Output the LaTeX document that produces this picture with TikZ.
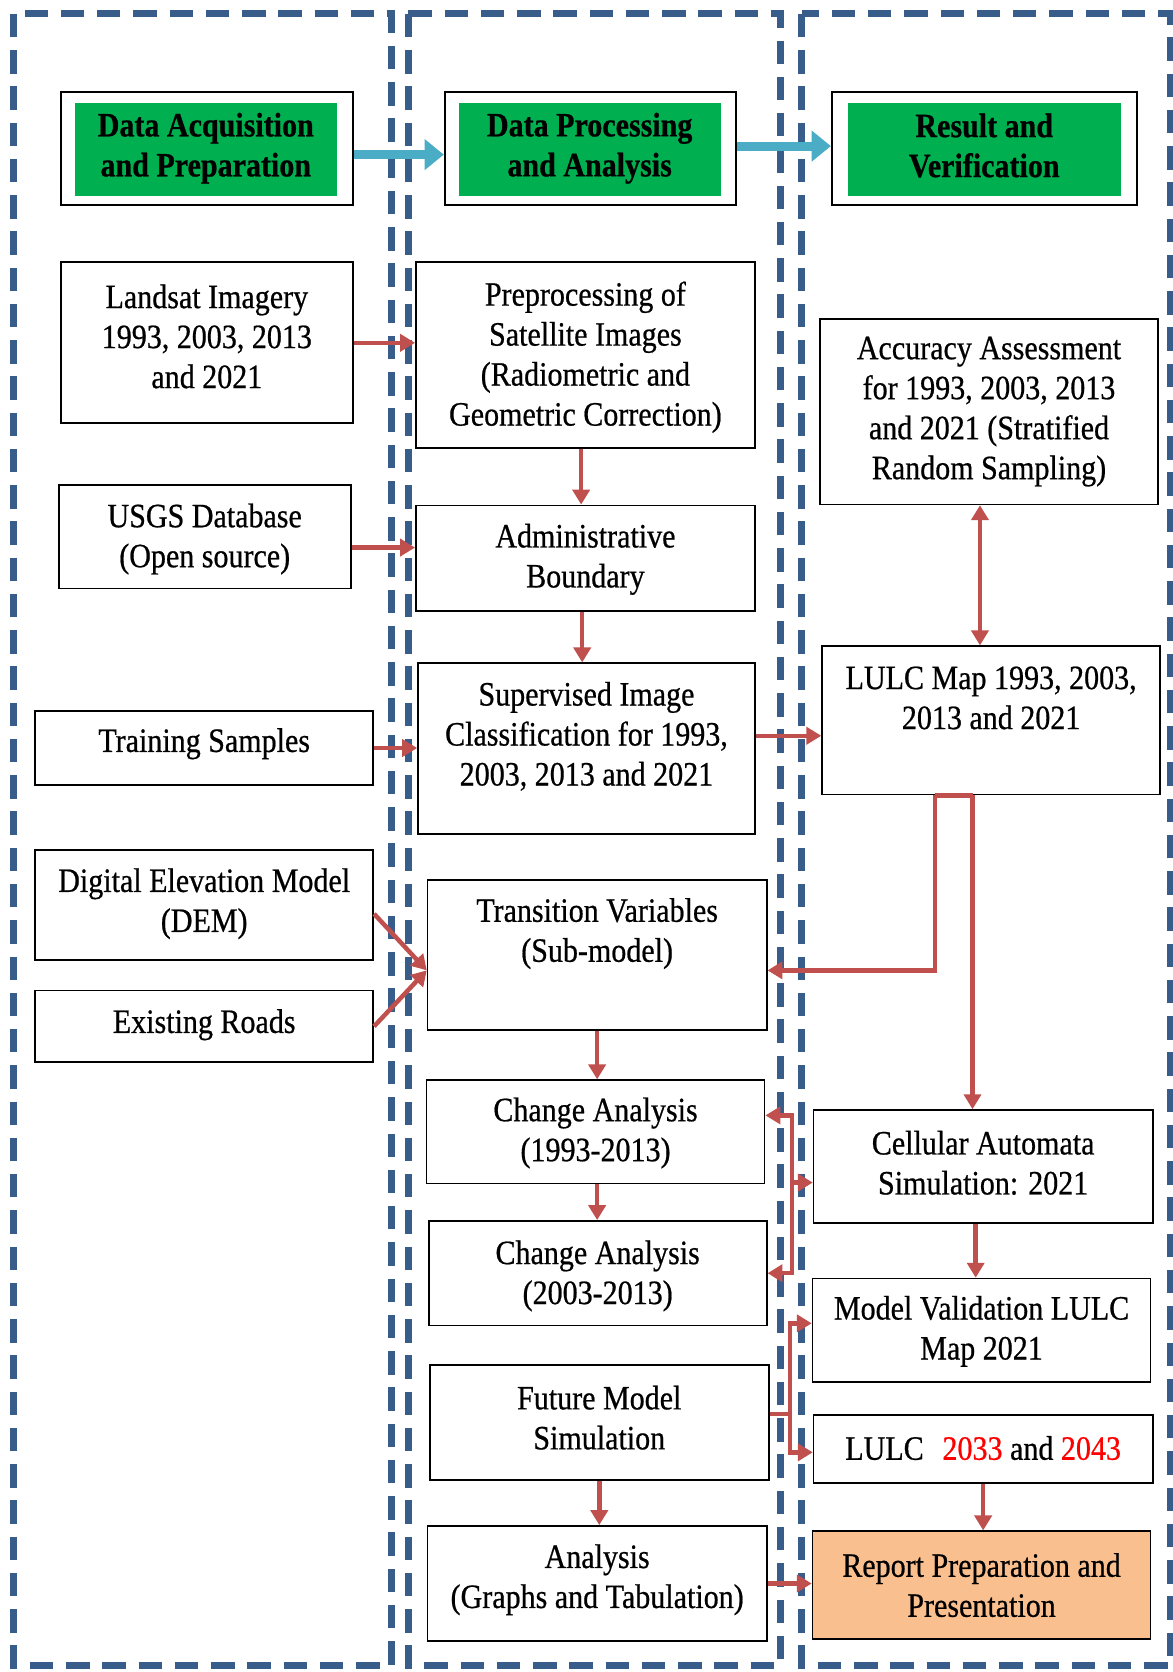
\documentclass[tikz,border=0pt]{standalone}
\usepackage{fontspec}
\setmainfont{Liberation Serif}[FakeStretch=0.88, FakeBold=0.6]
\usetikzlibrary{arrows.meta,calc}
\definecolor{dashblue}{RGB}{56,93,138}
\definecolor{hdrgreen}{RGB}{0,176,80}
\definecolor{arrblue}{RGB}{75,172,198}
\definecolor{arrred}{RGB}{192,80,77}
\definecolor{repfill}{RGB}{250,191,143}
\definecolor{txtred}{RGB}{255,0,0}
\newcommand\fs{\fontsize{32}{37.5}\selectfont}
\tikzset{
 box/.style={draw=black, line width=1.6pt, fill=white, inner sep=0pt},
 txt/.style={align=center, inner sep=0pt, font=\fs},
 hdrfill/.style={fill=hdrgreen, inner sep=0pt},
 hdrtxt/.style={txt, font=\fs\bfseries},
 frame/.style={draw=dashblue, line width=6.5pt, dash pattern=on 22pt off 12pt},
 redarr/.style={draw=arrred, line width=4.2pt, -{Triangle[length=14pt,width=16pt]}},
 redline/.style={draw=arrred, line width=4.2pt},
 redboth/.style={draw=arrred, line width=4.2pt, {Triangle[length=14pt,width=16pt]}-{Triangle[length=14pt,width=16pt]}},
 bluearr/.style={draw=arrblue, line width=8.5pt, -{Triangle[length=18pt,width=28pt]}},
}
% [style]{name}{x1}{y1}{x2}{y2}{text shift}{text}
\newcommand\mybox[8][]{%
  \node[box,#1,minimum width={#5-#3},minimum height={#6-#4}] (#2) at ({(#3+#5)/2},{(#4+#6)/2}) {};
  \node[txt] (#2-t) at ([yshift=#7pt]#2.center) {#8};}
\begin{document}
\begin{tikzpicture}[x=1pt,y=-1pt]
\useasboundingbox (0,0) rectangle (1100,1568);
\fill[white] (0,0) rectangle (1100,1568);
% dashed panels
\draw[frame] (13,13) rectangle (367,1562);
\draw[frame] (383,13) rectangle (732,1562);
\draw[frame] (752,13) rectangle (1098,1562);
% headers
\node[box, minimum width=274, minimum height=106] (h1) at (194,139) {};
\node[hdrfill, minimum width=246, minimum height=87] (h1g) at (193,140.5) {};
\node[hdrtxt] (h1t) at ([yshift=1.5pt]h1g.center) {Data Acquisition\\and Preparation};
\node[box, minimum width=273, minimum height=106] (h2) at (553.5,139) {};
\node[hdrfill, minimum width=246, minimum height=87] (h2g) at (553,140.5) {};
\node[hdrtxt] (h2t) at ([yshift=1.5pt]h2g.center) {Data Processing\\and Analysis};
\node[box, minimum width=286, minimum height=106] (h3) at (923,139) {};
\node[hdrfill, minimum width=256, minimum height=87] (h3g) at (923,140.5) {};
\node[hdrtxt] (h3t) at ([yshift=4pt]h3g.center) {Result and\\Verification};
% column 1
\mybox{landsat}{57}{246}{331}{397}{6}{Landsat Imagery\\1993, 2003, 2013\\and 2021}
\mybox{usgs}{55}{455}{329}{552}{-2}{USGS Database\\(Open source)}
\mybox{train}{33}{667}{350}{736}{4}{Training Samples}
\mybox{dem}{33}{797}{350}{900}{1}{Digital Elevation Model\\(DEM)}
\mybox{roads}{33}{929}{350}{996}{1.5}{Existing Roads}
% column 2
\mybox{prep}{390}{246}{708}{420}{-2}{Preprocessing of\\Satellite Images\\(Radiometric and\\Geometric Correction)}
\mybox{admin}{390}{474}{708}{573}{-1}{Administrative\\Boundary}
\mybox{sup}{392}{622}{708}{782}{11.5}{Supervised Image\\Classification for 1993,\\2003, 2013 and 2021}
\mybox{tv}{401}{825}{719}{966}{20}{Transition Variables\\(Sub-model)}
\mybox{ch1}{400}{1013}{717}{1110}{-1}{Change Analysis\\(1993-2013)}
\mybox{ch2}{402}{1145}{719}{1243}{-2.5}{Change Analysis\\(2003-2013)}
\mybox{fut}{403}{1280}{721}{1388}{4.5}{Future Model\\Simulation}
\mybox{an}{401}{1431}{719}{1539}{3.5}{Analysis\\(Graphs and Tabulation)}
% column 3
\mybox{acc}{769}{299}{1086}{473}{0}{Accuracy Assessment\\for 1993, 2003, 2013\\and 2021 (Stratified\\Random Sampling)}
\mybox{lmap}{771}{606}{1088}{745}{21}{LULC Map 1993, 2003,\\2013 and 2021}
\mybox{ca}{763}{1041}{1081}{1147}{3.5}{Cellular Automata\\Simulation: 2021}
\mybox{mv}{762}{1199}{1079}{1296}{-1}{Model Validation LULC\\Map 2021}
\mybox{lf}{763}{1327}{1081}{1391}{1}{LULC\hspace{0.55em}\textcolor{txtred}{2033} and \textcolor{txtred}{2043}}
\mybox[fill=repfill]{rep}{762}{1436}{1079}{1537}{0}{Report Preparation and\\Presentation}
% blue header arrows
\draw[bluearr] ([yshift=-6pt]h1.east) -- ([yshift=-6pt]h1.east -| h2.west);
\draw[bluearr] ([yshift=2pt]h2.east) -- ([yshift=2pt]h2.east -| h3.west);
% red connectors
\draw[redarr] (landsat.east) -- (landsat.east -| prep.west);
\draw[redarr] ([yshift=-10pt]usgs.east) -- ([yshift=-10pt]usgs.east -| admin.west);
\draw[redarr] (train.east) -- (train.east -| sup.west);
\coordinate (tvl) at ([yshift=-14.5pt]tv.west);
\draw[redarr] ([yshift=-8.5pt]dem.east) -- (tvl);
\draw[redarr] (roads.east) -- (tvl);
\draw[redarr] ([xshift=-4pt]prep.south) -- ([xshift=-4pt]prep.south |- admin.north);
\draw[redarr] ([xshift=-3pt]admin.south) -- ([xshift=-3pt]admin.south |- sup.north);
\draw[redarr] ([yshift=12pt]sup.east) -- ([yshift=12pt]sup.east -| lmap.west);
\draw[redboth] ([xshift=-8.5pt]acc.south) -- ([xshift=-8.5pt]acc.south |- lmap.north);
\coordinate (tvr) at ([yshift=-14.5pt]tv.east);
\coordinate (m1) at ([xshift=-52.5pt]lmap.south);
\coordinate (m2) at ([xshift=-17.5pt]lmap.south);
\draw[redline] (m1) -- (m2);
\draw[redarr] (m1) -- (m1 |- tvr) -- (tvr);
\draw[redarr] (m2) -- (m2 |- ca.north);
\draw[redarr] (tv.south) -- (tv.south |- ch1.north);
\draw[redarr] ([xshift=1.5pt]ch1.south) -- ([xshift=1.5pt]ch1.south |- ch2.north);
\coordinate (b1) at ([xshift=25pt,yshift=15.5pt]ch1.east);
\coordinate (b2) at (b1 |- ch2.east);
\draw[redboth] ([yshift=15.5pt]ch1.east) -- (b1) -- (b2) -- (ch2.east);
\coordinate (cal) at ([yshift=-15pt]ca.west);
\draw[redarr] (b1 |- cal) -- (cal);
\draw[redarr] ([xshift=-7pt]ca.south) -- ([xshift=-7pt]ca.south |- mv.north);
\coordinate (f1) at ([xshift=19pt,yshift=8pt]fut.east);
\coordinate (mvp) at ([yshift=6.5pt]mv.west);
\coordinate (lfp) at ([yshift=-3pt]lf.west);
\draw[redline] ([yshift=8pt]fut.east) -- (f1);
\draw[redarr] (f1) -- (f1 |- mvp) -- (mvp);
\draw[redarr] (f1) -- (f1 |- lfp) -- (lfp);
\draw[redarr] (lf.south) -- (lf.south |- rep.north);
\draw[redarr] (fut.south) -- (fut.south |- an.north);
\draw[redarr] (an.east) -- (an.east -| rep.west);
\end{tikzpicture}
\end{document}
